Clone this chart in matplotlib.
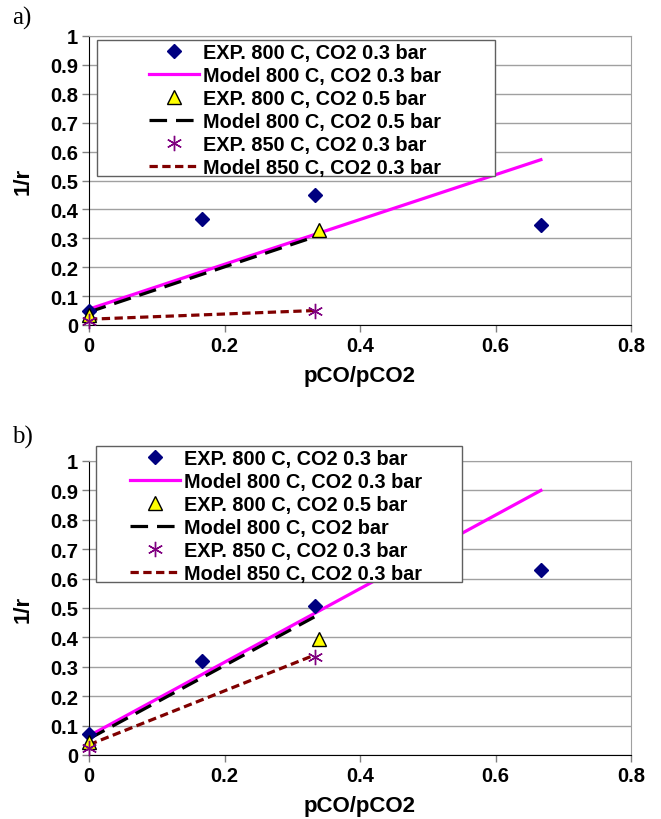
import matplotlib
matplotlib.use("Agg")
import matplotlib.pyplot as plt
from matplotlib.patches import Rectangle

plt.rcParams['font.family'] = ['Liberation Sans', 'DejaVu Sans']

# panel a) data
a_exp803_x = [0, 0.167, 0.333, 0.667]
a_exp803_y = [0.05, 0.367, 0.45, 0.345]
a_mod803_x = [0, 0.667]
a_mod803_y = [0.055, 0.572]
a_exp805_x = [0, 0.34]
a_exp805_y = [0.035, 0.33]
a_mod805_x = [0, 0.333]
a_mod805_y = [0.045, 0.305]
a_exp853_x = [0, 0.333]
a_exp853_y = [0.015, 0.05]
a_mod853_x = [0, 0.333]
a_mod853_y = [0.02, 0.05]

# panel b) data
b_exp803_x = [0, 0.167, 0.333, 0.667]
b_exp803_y = [0.07, 0.32, 0.508, 0.63]
b_mod803_x = [0, 0.667]
b_mod803_y = [0.065, 0.9]
b_exp805_x = [0, 0.34]
b_exp805_y = [0.045, 0.395]
b_mod805_x = [0, 0.333]
b_mod805_y = [0.055, 0.47]
b_exp853_x = [0, 0.333]
b_exp853_y = [0.025, 0.335]
b_mod853_x = [0, 0.333]
b_mod853_y = [0.035, 0.34]

labels_a = ["EXP. 800 C, CO2 0.3 bar", "Model 800 C, CO2 0.3 bar",
            "EXP. 800 C, CO2 0.5 bar", "Model 800 C, CO2 0.5 bar",
            "EXP. 850 C, CO2 0.3 bar", "Model 850 C, CO2 0.3 bar"]
labels_b = ["EXP. 800 C, CO2 0.3 bar", "Model 800 C, CO2 0.3 bar",
            "EXP. 800 C, CO2 0.5 bar", "Model 800 C, CO2 bar",
            "EXP. 850 C, CO2 0.3 bar", "Model 850 C, CO2 0.3 bar"]

yticks = [0, 0.1, 0.2, 0.3, 0.4, 0.5, 0.6, 0.7, 0.8, 0.9, 1]
ytick_labels = ["0", "0.1", "0.2", "0.3", "0.4", "0.5", "0.6", "0.7", "0.8", "0.9", "1"]
xticks = [0, 0.2, 0.4, 0.6, 0.8]
xtick_labels = ["0", "0.2", "0.4", "0.6", "0.8"]

W, H = 661, 820
fig = plt.figure(figsize=(W / 100, H / 100), dpi=100)
# axes placed in pixel units (left, bottom, width, height)
ax_a = fig.add_axes([89 / W, (H - 326) / H, 542 / W, 289 / H])
ax_b = fig.add_axes([89 / W, (H - 756) / H, 542 / W, 294 / H])


def draw(ax, d, labels, box, anchor):
    h = []
    h += ax.plot(d[0], d[1], linestyle='none', marker='D', ms=7, color='#000080', zorder=5, clip_on=False)
    h += ax.plot(d[2], d[3], color='#ff00ff', lw=2.3, zorder=3)
    h += ax.plot(d[4], d[5], linestyle='none', marker='^', ms=10, mfc='#ffff00', mec='black', mew=1, zorder=6, clip_on=False)
    h += ax.plot(d[6], d[7], color='black', lw=2.3, dashes=(5.5, 2.8), zorder=4)
    h += ax.plot(d[8], d[9], linestyle='none', marker=(6, 2, 0), ms=11, color='#800080', mew=1, zorder=7, clip_on=False)
    h += ax.plot(d[10], d[11], color='#800000', lw=2.3, dashes=(2.6, 1.4), zorder=4)

    ax.set_xlim(0, 0.8)
    ax.set_ylim(0, 1)
    ax.set_yticks(yticks)
    ax.set_yticklabels(ytick_labels)
    ax.set_xticks(xticks)
    ax.set_xticklabels(xtick_labels)
    for t in ax.get_xticklabels() + ax.get_yticklabels():
        t.set_fontweight('bold')
        t.set_fontsize(14.5)
    ax.tick_params(axis='both', direction='out', length=5, width=1, pad=3,
                   color='#808080')
    ax.yaxis.grid(True, color='#a0a0a0', lw=1)
    ax.set_axisbelow(True)
    ax.spines['left'].set_color('black')
    ax.spines['bottom'].set_color('black')
    ax.spines['top'].set_color('#a0a0a0')
    ax.spines['right'].set_color('#a0a0a0')
    ax.set_ylabel("1/r", fontsize=16, fontweight='bold')
    ax.set_xlabel("pCO/pCO2", fontsize=16, fontweight='bold')

    # legend frame drawn separately so the padding matches the original
    rect = Rectangle((box[0], box[1]), box[2], box[3], transform=ax.transAxes,
                     facecolor='white', edgecolor='#606060', lw=1,
                     clip_on=False, zorder=9)
    ax.add_patch(rect)
    leg = ax.legend(h, labels, loc='upper left', bbox_to_anchor=anchor,
                    prop={'weight': 'bold', 'size': 14.3}, frameon=False,
                    handlelength=2.5, handletextpad=0.2, labelspacing=0.2,
                    borderpad=0, borderaxespad=0)
    leg.set_zorder(10)


def px_box(x0, y0, x1, y1, top, bottom):
    # pixel rectangle -> axes fraction (x0, y_bottom, w, h)
    hh = bottom - top
    return ((x0 - 89) / 542, (bottom - y1) / hh, (x1 - x0) / 542, (y1 - y0) / hh)


box_a = px_box(97, 41, 495, 177, 37, 326)
box_b = px_box(96, 447, 462, 583, 462, 756)

draw(ax_a, [a_exp803_x, a_exp803_y, a_mod803_x, a_mod803_y, a_exp805_x, a_exp805_y,
            a_mod805_x, a_mod805_y, a_exp853_x, a_exp853_y, a_mod853_x, a_mod853_y],
     labels_a, box_a, ((149 - 89) / 542, (326 - 44) / 289))
draw(ax_b, [b_exp803_x, b_exp803_y, b_mod803_x, b_mod803_y, b_exp805_x, b_exp805_y,
            b_mod805_x, b_mod805_y, b_exp853_x, b_exp853_y, b_mod853_x, b_mod853_y],
     labels_b, box_b, ((130 - 89) / 542, (756 - 450) / 294))

for ax, axb, hh in [(ax_a, 326, 289), (ax_b, 756, 294)]:
    ax.xaxis.set_label_coords(0.5, -(51 / hh), transform=ax.transAxes)
    ax.yaxis.set_label_coords(-(66 / 542), 0.5, transform=ax.transAxes)
    ax.xaxis.label.set_va('center')
    ax.yaxis.label.set_va('center')

fig.text(12 / W, 1 - 18 / H, "a)", fontsize=18, family=['Liberation Serif'], va='center')
fig.text(12 / W, 1 - 437 / H, "b)", fontsize=18, family=['Liberation Serif'], va='center')

fig.savefig("out.png", dpi=100)
